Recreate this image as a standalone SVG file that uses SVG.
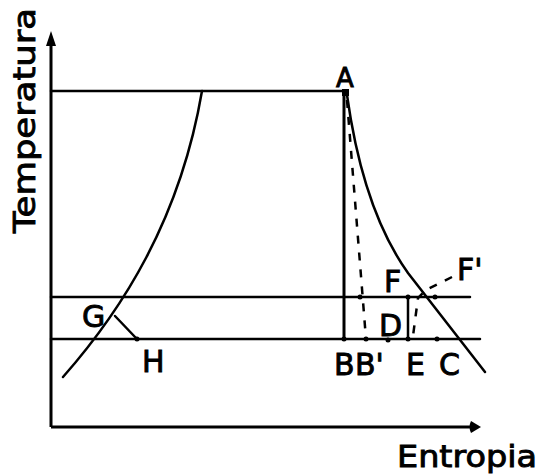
<svg xmlns="http://www.w3.org/2000/svg" width="543" height="475" viewBox="0 0 543 475">
<style>
.ln{stroke:#000;stroke-width:2.5;fill:none;stroke-linecap:round}
.th{stroke:#000;stroke-width:3;fill:none}
.ds{stroke:#000;stroke-width:2.5;fill:none;stroke-dasharray:8 9}
.lb{font-family:"DejaVu Sans",sans-serif;font-size:30px;fill:#000;stroke:#000;stroke-width:0.9}
.dot{fill:#000}
</style>
<g id="axes">
<line class="th" x1="51" y1="427" x2="51" y2="40"/>
<path d="M51,31 L56,46 L46,46 Z" fill="#000"/>
<line class="th" x1="51" y1="427" x2="472" y2="427"/>
<path d="M481,427 L471,421 Q468,427 471,433 Z" fill="#000"/>
</g>
<g id="connectors">
<line class="ln" x1="51" y1="91" x2="347" y2="91"/>
<line class="ln" x1="51" y1="297" x2="470" y2="297"/>
<line class="ln" x1="51" y1="339" x2="480" y2="339"/>
<line class="th" x1="344" y1="91" x2="344" y2="339"/>
<line class="ds" x1="347" y1="100" x2="366" y2="339"/>
<line class="ln" x1="408" y1="297" x2="408" y2="339"/>
<path class="ln" d="M347,95 Q363,210 408,273 L485,372"/>
<path class="ln" d="M63,377 C122,310 180,220 202,91"/>
<line class="ln" x1="115" y1="316" x2="136" y2="338"/>
<path class="ds" d="M452,277 L426,290 L418,298 L413,336"/>
</g>
<g id="points">
<rect x="342" y="89" width="7" height="7" class="dot"/>
<circle class="dot" cx="344" cy="339" r="2.5"/>
<circle class="dot" cx="366" cy="339" r="2.5"/>
<circle class="dot" cx="388" cy="340" r="2.5"/>
<circle class="dot" cx="408" cy="339" r="2.5"/>
<circle class="dot" cx="437" cy="339" r="2.5"/>
<circle class="dot" cx="360" cy="297" r="2.5"/>
<circle class="dot" cx="408" cy="297" r="2.5"/>
<circle class="dot" cx="435" cy="297" r="2.5"/>
<circle class="dot" cx="137" cy="339" r="2.5"/>
</g>
<g id="labels">
<text class="lb" transform="translate(35,233) rotate(-90)" textLength="225" lengthAdjust="spacingAndGlyphs">Temperatura</text>
<text class="lb" x="397" y="467" textLength="140" lengthAdjust="spacingAndGlyphs">Entropia</text>
<text class="lb" x="336" y="87" style="font-size:26px">A</text>
<text class="lb" x="384" y="292">F</text>
<text class="lb" x="457" y="280">F'</text>
<text class="lb" x="379" y="336">D</text>
<text class="lb" x="334" y="375">B</text>
<text class="lb" x="355" y="375">B'</text>
<text class="lb" x="406" y="375">E</text>
<text class="lb" x="439" y="375">C</text>
<text class="lb" x="82" y="327">G</text>
<text class="lb" x="142" y="372">H</text>
</g>
</svg>
